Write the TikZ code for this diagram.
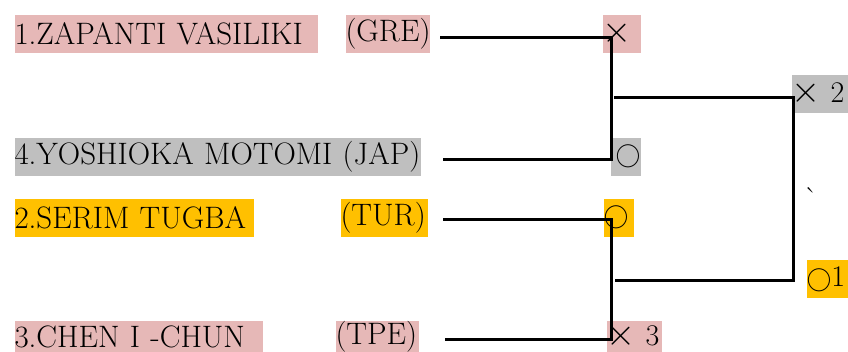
\documentclass[tikz,border=0pt]{standalone}
\definecolor{pinkbg}{HTML}{E6B8B7}
\definecolor{graybg}{HTML}{BFBFBF}
\definecolor{goldbg}{HTML}{FFC000}
\newcommand{\lose}{\scalebox{1.5}{$\times$}}
\begin{document}
\begin{tikzpicture}[x=1pt, y=-1pt, line width=3pt,
    entry/.style = {inner sep=0pt, anchor=north west, minimum height=38pt, align=left,
        font=\fontsize{31}{31}\selectfont},
    score/.style = {inner sep=0pt, anchor=north west, minimum height=38pt, align=left,
        font=\fontsize{30}{30}\selectfont}]
    \useasboundingbox (0,0) rectangle (848,351);
    % players
    \node[entry, fill=pinkbg, text width=303pt] (zapanti) at (13,13) {\mbox{1.ZAPANTI VASILIKI}};
    \node[entry, fill=pinkbg, text width=84pt] (gre) at (344,13) {(GRE)};
    \node[entry, fill=graybg, text width=406pt] (yoshioka) at (13,136) {\mbox{4.YOSHIOKA MOTOMI (JAP)}};
    \node[entry, fill=goldbg, text width=239pt] (serim) at (13,197) {\mbox{2.SERIM TUGBA}};
    \node[entry, fill=goldbg, text width=87pt] (tur) at (339,197) {(TUR)};
    \node[entry, fill=pinkbg, text width=248pt, minimum height=32pt] (chen) at (13,319) {\mbox{3.CHEN I -CHUN}};
    \node[entry, fill=pinkbg, text width=83pt, minimum height=32pt] (tpe) at (334,319) {(TPE)};
    % results
    \node[score, fill=pinkbg, text width=38pt] (res1) at (601,13) {\lose};
    \node[score, fill=graybg, text width=30pt] (res4) at (609,136) {\,$\bigcirc$};
    \node[score, fill=goldbg, text width=30pt] (res2) at (602,197) {$\bigcirc$};
    \node[score, fill=pinkbg, text width=55pt, minimum height=32pt] (res3) at (605,319) {\lose\ 3};
    \node[score, fill=graybg, text width=58pt] (fin1) at (790,73) {\lose\ 2};
    \node[score, fill=goldbg, text width=43pt] (fin2) at (805,258) {$\bigcirc$1};
    \node[inner sep=0pt, font=\fontsize{30}{30}\selectfont] (tick) at (811,198) {\textasciigrave};
    % bracket points
    \coordinate (a1) at (440,37);
    \coordinate (a4) at (443,159);
    \coordinate (a2) at (443,219);
    \coordinate (a3) at (445,339);
    \coordinate (m1) at (611,37);
    \coordinate (m4) at (611,159);
    \coordinate (m2) at (611,219);
    \coordinate (m3) at (611,339);
    \coordinate (u) at (614,97);
    \coordinate (l) at (615,280);
    \coordinate (fu) at (793,97);
    \coordinate (fl) at (793,280);
    \draw (a1) -- (m1) -- (m4) -- (a4);
    \draw (a2) -- (m2) -- (m3) -- (a3);
    \draw (u) -- (fu) -- (fl) -- (l);
\end{tikzpicture}
\end{document}
